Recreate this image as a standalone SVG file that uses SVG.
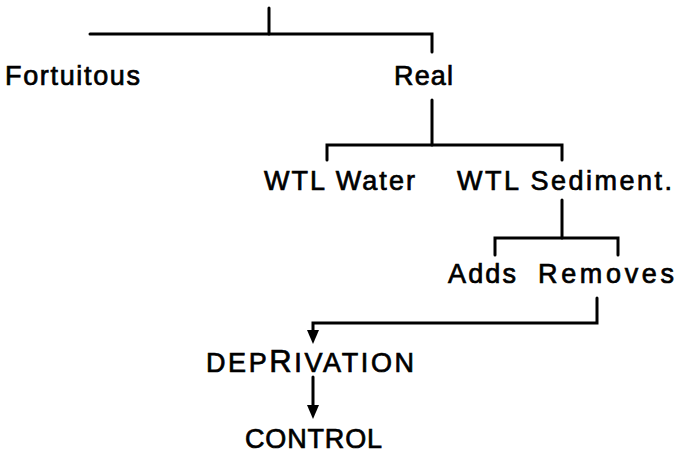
<svg xmlns="http://www.w3.org/2000/svg" width="689" height="453" viewBox="0 0 689 453">
<defs>
<style>
.t{font-family:"Liberation Sans",Arial,sans-serif;font-size:27px;fill:#000;stroke:#000;stroke-width:0.7px}
.c{fill:none;stroke:#000;stroke-width:3;stroke-linecap:round;stroke-linejoin:miter}
.h{fill:#000}
</style>
</defs>
<rect width="689" height="453" fill="#fff"/>
<g id="connectors">
<path class="c" d="M269,8 V34"/>
<path class="c" d="M90,34 H432 V52"/>
<path class="c" d="M432,100 V145"/>
<path class="c" d="M327,160 V145 H562 V160"/>
<path class="c" d="M562,200 V238"/>
<path class="c" d="M495,255 V238 H618 V255"/>
<path class="c" d="M597,298 V323 H313 V331"/>
<path class="h" d="M307,330 L313,344 L319,330 Z"/>
<path class="c" d="M313,377 V406"/>
<path class="h" d="M307,405 L313,419 L319,405 Z"/>
</g>
<g id="fortuitous"><text class="t" x="5" y="85" textLength="135" lengthAdjust="spacing">Fortuitous</text></g>
<g id="real"><text class="t" x="394" y="85" textLength="59" lengthAdjust="spacing">Real</text></g>
<g id="wtl-water"><text class="t" x="264" y="190" textLength="151" lengthAdjust="spacing">WTL Water</text></g>
<g id="wtl-sediment"><text class="t" x="457" y="190" textLength="215" lengthAdjust="spacing">WTL Sediment.</text></g>
<g id="adds"><text class="t" x="448" y="283" textLength="68" lengthAdjust="spacing">Adds</text></g>
<g id="removes"><text class="t" x="538" y="283" textLength="136" lengthAdjust="spacing">Removes</text></g>
<g id="deprivation"><text class="t" x="206" y="372" textLength="208" lengthAdjust="spacing">DEP<tspan font-size="31">R</tspan>IVATION</text></g>
<g id="control"><text class="t" x="245" y="448" textLength="137" lengthAdjust="spacing">CONTROL</text></g>
</svg>
